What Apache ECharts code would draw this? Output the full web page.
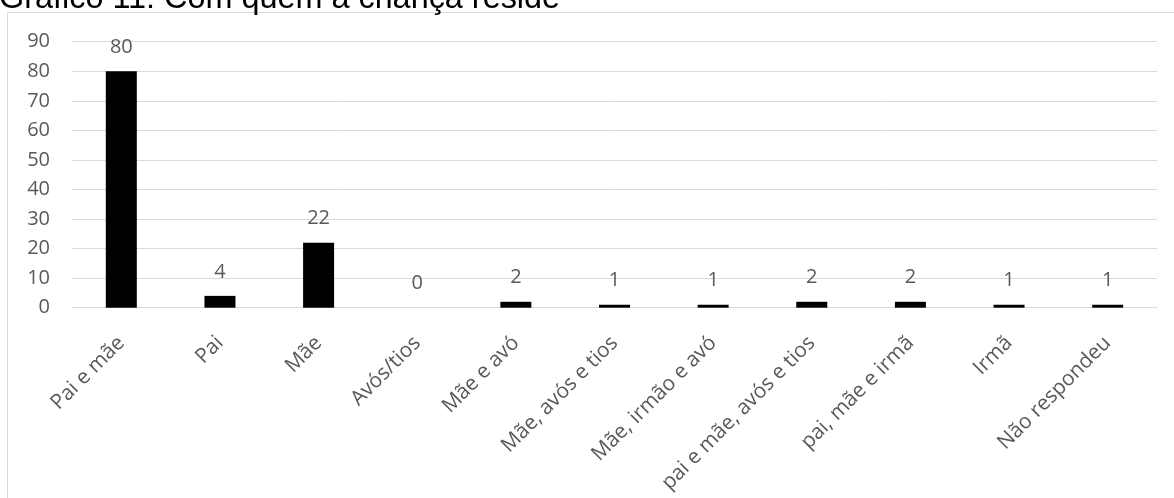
<!DOCTYPE html>
<html>
<head>
<meta charset="utf-8">
<script src="https://cdn.jsdelivr.net/npm/echarts@6/dist/echarts.min.js"></script>
<style>
  html, body { margin: 0; padding: 0; background: #ffffff; }
  #chart { width: 1174px; height: 498px; }
</style>
</head>
<body>
<div id="chart"></div>
<script>
// Com quem a criança reside — respostas por categoria
const categories = [
  'Pai e mãe', 'Pai', 'Mãe', 'Avós/tios', 'Mãe e avó', 'Mãe, avós e tios',
  'Mãe, irmão e avó', 'pai e mãe, avós e tios', 'pai, mãe e irmã', 'Irmã', 'Não respondeu'
];
const counts = [80, 4, 22, 0, 2, 1, 1, 2, 2, 1, 1];
const yTicks = { min: 0, max: 90, step: 10 };
const titleText = 'Gráfico 11: Com quem a criança reside';

const labelFont = '"Open Sans", "Noto Sans", sans-serif';
const gray = '#595959';
const lineGray = '#d9d9d9';

const chart = echarts.init(document.getElementById('chart'), null, { renderer: 'canvas' });
chart.setOption({
  animation: false,
  backgroundColor: '#ffffff',
  title: {
    text: titleText,
    left: -1,
    top: -17,
    padding: 0,
    textStyle: {
      fontFamily: '"Liberation Sans", Arial, sans-serif',
      fontSize: 32.4,
      lineHeight: 32,
      fontWeight: 'normal',
      color: '#000000'
    }
  },
  graphic: [{
    // chart-area frame
    type: 'rect',
    z: -10,
    shape: { x: 7.5, y: 12.5, width: 1200, height: 520 },
    style: { fill: 'none', stroke: lineGray, lineWidth: 1 }
  }],
  grid: { left: 72, right: 17, top: 41.7, bottom: 190.3, containLabel: false },
  xAxis: {
    type: 'category',
    data: categories,
    axisLine: { show: true, lineStyle: { color: lineGray, width: 1 } },
    axisTick: { show: false },
    axisLabel: {
      interval: 0,
      rotate: 45,
      margin: 32,
      fontFamily: labelFont,
      fontSize: 20.8,
      color: gray
    }
  },
  yAxis: {
    type: 'value',
    min: yTicks.min,
    max: yTicks.max,
    interval: yTicks.step,
    axisLine: { show: false },
    axisTick: { show: false },
    splitLine: { lineStyle: { color: lineGray, width: 1 } },
    axisLabel: {
      margin: 22,
      fontFamily: labelFont,
      fontSize: 20,
      color: gray
    }
  },
  series: [{
    type: 'bar',
    data: counts,
    barWidth: 31,
    itemStyle: { color: '#000000' },
    label: {
      show: true,
      position: 'top',
      distance: 14,
      fontFamily: labelFont,
      fontSize: 20,
      color: gray
    }
  }]
});
</script>
</body>
</html>
